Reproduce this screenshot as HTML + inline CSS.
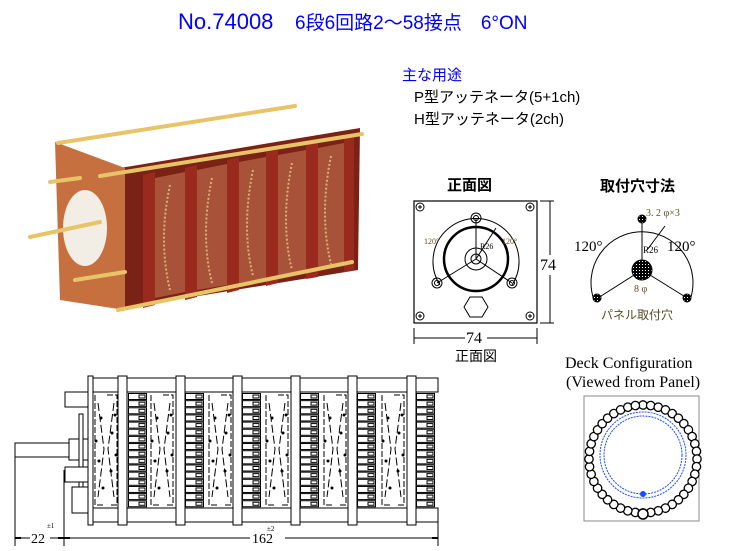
<!DOCTYPE html>
<html><head><meta charset="utf-8"><style>
html,body{margin:0;padding:0;background:#fff;}
svg{display:block;}
.jp{font-family:"Liberation Sans","Noto Sans CJK JP",sans-serif;}
.se{font-family:"Liberation Serif","Noto Serif CJK SC",serif;}
</style></head><body>
<svg width="730" height="551" viewBox="0 0 730 551" xmlns="http://www.w3.org/2000/svg">
<defs>
<g id="xp" fill="none" stroke="#000" stroke-width="1">
<path d="M2 2 V112 H12 M14 2 H24 V112 H18" stroke-dasharray="6 2"/>
<path d="M5 10 L11 56 L5 104 M21 10 L15 56 L21 104" stroke-dasharray="8 3"/>
<g fill="#000" stroke="none"><circle cx="8" cy="25" r="1.5"/><circle cx="19" cy="40" r="1.5"/><circle cx="6" cy="68" r="1.5"/><circle cx="18" cy="78" r="1.5"/><circle cx="10" cy="95" r="1.5"/><circle cx="22" cy="22" r="1.5"/><circle cx="3" cy="48" r="1.5"/><circle cx="23" cy="62" r="1.5"/></g>
</g>
<g id="b4" fill="#fff" stroke="#000" stroke-width="1.3">
<circle cx="643" cy="405" r="4.2"/><circle cx="643" cy="405" r="4.2" transform="rotate(8.18 643 459)"/><circle cx="643" cy="405" r="4.2" transform="rotate(16.36 643 459)"/><circle cx="643" cy="405" r="4.2" transform="rotate(24.55 643 459)"/>
</g>
<pattern id="hatch" patternUnits="userSpaceOnUse" width="3" height="3"><rect width="3" height="3" fill="#000"/><rect width="1" height="1" fill="#fff"/></pattern>
</defs>

<!-- Title -->
<text x="178" y="29" font-size="22" fill="#0000ff" class="jp">No.74008</text>
<text x="295" y="29" font-size="19" fill="#0000ff" class="jp">6段6回路2～58接点　6°ON</text>
<text x="402" y="80" font-size="15" fill="#0000ff" class="jp">主な用途</text>
<text x="414" y="102" font-size="15" fill="#000" class="jp">P型アッテネータ(5+1ch)</text>
<text x="414" y="124" font-size="15" fill="#000" class="jp">H型アッテネータ(2ch)</text>

<!-- Photo approximation -->
<g>
<polygon points="120,168 360,128 358,270 125,308" fill="#7a2216"/>
<g fill="#a8523a">
<polygon points="155,178 185,172 185,292 155,298"/>
<polygon points="197,170 227,164 227,285 197,290"/>
<polygon points="239,162 266,157 266,278 239,283"/>
<polygon points="278,155 306,150 306,272 278,276"/>
<polygon points="318,148 344,143 344,266 318,270"/>
</g>
<polygon points="55,142 125,168 125,310 60,300" fill="#c6703f"/>
<ellipse cx="85" cy="228" rx="22" ry="38" fill="#f3eee5"/>
<g fill="#9b2a1e">
<polygon points="143,175 155,172 155,305 143,308"/>
<polygon points="185,168 197,165 197,297 185,300"/>
<polygon points="227,160 239,157 239,290 227,293"/>
<polygon points="266,152 278,150 278,283 266,286"/>
<polygon points="306,145 318,143 318,277 306,279"/>
<polygon points="344,138 354,136 354,270 344,272"/>
</g>
<g fill="none" stroke="#d9b070" stroke-width="2" stroke-dasharray="2 2">
<path d="M170 185 Q158 240 170 290"/><path d="M212 178 Q200 235 212 283"/><path d="M253 170 Q241 228 253 276"/><path d="M292 163 Q280 222 292 270"/><path d="M331 156 Q319 215 331 264"/>
</g>
<g stroke="#e8c468" stroke-width="4" stroke-linecap="round">
<line x1="58" y1="143" x2="295" y2="106"/>
<line x1="100" y1="176" x2="362" y2="134"/>
<line x1="118" y1="310" x2="352" y2="262"/>
<line x1="75" y1="280" x2="125" y2="272"/>
<line x1="30" y1="237" x2="100" y2="222"/>
<line x1="50" y1="182" x2="80" y2="178"/>
</g>
</g>

<!-- Front view -->
<text x="447" y="190" font-size="15" font-weight="bold" class="jp">正面図</text>
<rect x="414" y="201" width="123" height="122" fill="none" stroke="#000" stroke-width="1.2"/>
<g fill="none" stroke="#000" stroke-width="1">
<circle cx="420" cy="207" r="4"/><circle cx="530" cy="207" r="4"/><circle cx="420" cy="316" r="4"/><circle cx="530" cy="316" r="4"/>
<path d="M418 207h4M420 205v4M528 207h4M530 205v4M418 316h4M420 314v4M528 316h4M530 314v4"/>
<path d="M440 285 A43 43 0 1 1 512 285"/>
<circle cx="476" cy="259" r="32" stroke-width="2.5"/>
<circle cx="476" cy="259" r="11"/><circle cx="476" cy="259" r="5"/>
<path d="M476 259 V218 M476 259 L437 283 M476 259 L512 283 M476 259 L496 228"/>
<circle cx="476" cy="218" r="5"/><circle cx="476" cy="218" r="2.5"/>
<circle cx="437" cy="283" r="5"/><circle cx="437" cy="283" r="2.5"/>
<circle cx="512" cy="283" r="5"/><circle cx="512" cy="283" r="2.5"/>
<polygon points="470,297 482,297 488,307 482,317 470,317 464,307"/>
<path d="M540 201h14M540 323h14M550 201v122M414 328v16M537 328v16M414 338h123"/>
</g>
<text x="424" y="244" font-size="8" fill="#5a4a20" class="se">120°</text>
<text x="502" y="244" font-size="8" fill="#5a4a20" class="se">120°</text>
<text x="480" y="249" font-size="8" class="se">R26</text>
<rect x="540" y="255" width="20" height="20" fill="#fff"/>
<text x="540" y="270" font-size="16" class="se">74</text>
<rect x="465" y="330" width="22" height="16" fill="#fff"/>
<text x="466" y="343" font-size="16" class="se">74</text>
<text x="455" y="361" font-size="14" class="jp">正面図</text>

<!-- Mounting holes -->
<text x="600" y="191" font-size="15" font-weight="bold" class="jp">取付穴寸法</text>
<g fill="none" stroke="#000" stroke-width="1">
<path d="M594 300 A51 51 0 1 1 690 300"/>
<path d="M642 270 V219 M642 270 L598 298 M642 270 L687 298 M647 250 L665 226"/>
<circle cx="642" cy="270" r="10" fill="url(#hatch)"/>
<circle cx="642" cy="219" r="4" fill="url(#hatch)"/>
<circle cx="597" cy="298" r="4" fill="url(#hatch)"/>
<circle cx="687" cy="298" r="4" fill="url(#hatch)"/>
</g>
<text x="646" y="216" font-size="10" fill="#5a4a20" class="se">3. 2 φ×3</text>
<text x="574" y="251" font-size="15" class="se">120°</text>
<text x="667" y="251" font-size="15" class="se">120°</text>
<text x="643" y="253" font-size="9" class="se">R26</text>
<text x="634" y="292" font-size="10" fill="#5a4a20" class="se">8 φ</text>
<text x="601" y="319" font-size="12" fill="#5a4a20" class="jp">パネル取付穴</text>

<!-- Deck configuration -->
<text x="565" y="368" font-size="16" class="se">Deck Configuration</text>
<text x="566" y="387" font-size="16" class="se">(Viewed from Panel)</text>
<rect x="584" y="396" width="115" height="125" fill="#fff" stroke="#888" stroke-width="1"/>
<g>
<use href="#b4"/>
<use href="#b4" transform="rotate(32.73 643 459)"/>
<use href="#b4" transform="rotate(65.45 643 459)"/>
<use href="#b4" transform="rotate(98.18 643 459)"/>
<use href="#b4" transform="rotate(130.9 643 459)"/>
<use href="#b4" transform="rotate(163.6 643 459)"/>
<use href="#b4" transform="rotate(196.4 643 459)"/>
<use href="#b4" transform="rotate(229.1 643 459)"/>
<use href="#b4" transform="rotate(261.8 643 459)"/>
<use href="#b4" transform="rotate(294.5 643 459)"/>
<use href="#b4" transform="rotate(327.3 643 459)"/>
</g>
<circle cx="643" cy="514" r="5" fill="#fff" stroke="#000" stroke-width="1.5"/>
<g fill="none" stroke="#1a4bff" stroke-width="1" stroke-dasharray="2 1">
<circle cx="643" cy="455" r="43"/><circle cx="643" cy="455" r="39"/>
</g>
<circle cx="643" cy="494" r="3" fill="#1a4bff"/>

<!-- Side drawing -->
<g fill="#fff" stroke="#000" stroke-width="1">
<rect x="93" y="378" width="345" height="14"/>
<rect x="93" y="508" width="345" height="14"/>
<rect x="88" y="376" width="5" height="149"/>
<rect x="65" y="392" width="23" height="15"/>
<rect x="65" y="467" width="23" height="15"/>
<rect x="69" y="439" width="19" height="21"/>
<rect x="15" y="443" width="54" height="14"/>
<rect x="79" y="414" width="4" height="53"/>
<rect x="72" y="487" width="16" height="26"/>
<rect x="79" y="482" width="4" height="5"/>
</g>
<g fill="#fff" stroke="#000" stroke-width="1">
<g id="tabrow">
<rect x="185.5" y="393.5" width="18" height="6"/><rect x="242.5" y="393.5" width="18" height="6"/><rect x="300.5" y="393.5" width="18" height="6"/><rect x="357.5" y="393.5" width="18" height="6"/><rect x="416.5" y="393.5" width="18" height="6"/><rect x="128.5" y="393.5" width="18" height="6"/>
<rect x="196" y="395" width="6" height="3"/><rect x="253" y="395" width="6" height="3"/><rect x="311" y="395" width="6" height="3"/><rect x="368" y="395" width="6" height="3"/><rect x="427" y="395" width="6" height="3"/><rect x="139" y="395" width="6" height="3"/>
</g>
<use href="#tabrow" y="7.15"/><use href="#tabrow" y="14.3"/><use href="#tabrow" y="21.45"/><use href="#tabrow" y="28.6"/><use href="#tabrow" y="35.75"/><use href="#tabrow" y="42.9"/><use href="#tabrow" y="50.05"/><use href="#tabrow" y="57.2"/><use href="#tabrow" y="64.35"/><use href="#tabrow" y="71.5"/><use href="#tabrow" y="78.65"/><use href="#tabrow" y="85.8"/><use href="#tabrow" y="92.95"/><use href="#tabrow" y="100.1"/><use href="#tabrow" y="107.25"/>
</g>
<use href="#xp" x="93" y="393"/>
<use href="#xp" x="149" y="393"/>
<use href="#xp" x="207" y="393"/>
<use href="#xp" x="264" y="393"/>
<use href="#xp" x="322" y="393"/>
<use href="#xp" x="380" y="393"/>
<g fill="#fff" stroke="#000" stroke-width="1">
<rect x="118" y="376" width="9" height="149"/>
<rect x="176" y="376" width="9" height="149"/>
<rect x="233" y="376" width="9" height="149"/>
<rect x="291" y="376" width="9" height="149"/>
<rect x="348" y="376" width="9" height="149"/>
<rect x="407" y="376" width="9" height="149"/>
</g>
<g stroke="#000" stroke-width="1" fill="none">
<path d="M15 457 V546 M64 470 V546 M438 522 V546 M15 538 H30 M50 538 H64 M64 538 H250 M285 538 H438"/>
</g>
<g fill="#000"><rect x="15" y="537" width="6" height="2"/><rect x="58" y="537" width="6" height="2"/><rect x="64" y="537" width="6" height="2"/><rect x="432" y="537" width="6" height="2"/></g>
<text x="31" y="543" font-size="14" class="se">22</text>
<text x="47" y="528" font-size="7" class="se">±1</text>
<text x="252" y="543" font-size="14" class="se">162</text>
<text x="267" y="531" font-size="7" class="se">±2</text>
</svg>
</body></html>
